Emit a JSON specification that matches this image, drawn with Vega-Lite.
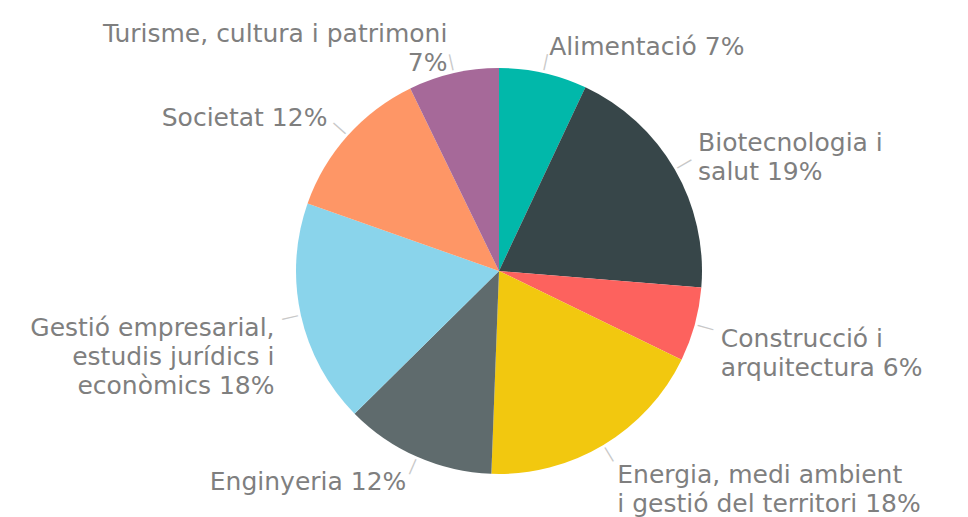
{
  "$schema": "https://vega.github.io/schema/vega-lite/v6.json",
  "width": 938,
  "height": 492,
  "autosize": "none",
  "padding": {"left": 30, "top": 25, "right": 0, "bottom": 0},
  "background": "white",
  "config": {"view": {"stroke": null}},
  "data": {
    "values": [
      {"category": "Alimentació", "value": 7.0, "label": "Alimentació 7%"},
      {"category": "Biotecnologia i salut", "value": 19.3, "label": "Biotecnologia i\nsalut 19%"},
      {"category": "Construcció i arquitectura", "value": 5.9, "label": "Construcció i\narquitectura 6%"},
      {"category": "Energia, medi ambient i gestió del territori", "value": 18.4, "label": "Energia, medi ambient\ni gestió del territori 18%"},
      {"category": "Enginyeria", "value": 12.0, "label": "Enginyeria 12%"},
      {"category": "Gestió empresarial, estudis jurídics i econòmics", "value": 17.8, "label": "Gestió empresarial,\nestudis jurídics i\neconòmics 18%"},
      {"category": "Societat", "value": 12.4, "label": "Societat 12%"},
      {"category": "Turisme, cultura i patrimoni", "value": 7.2, "label": "Turisme, cultura i patrimoni\n7%"}
    ]
  },
  "encoding": {
    "theta": {"field": "value", "type": "quantitative", "stack": true}
  },
  "layer": [
    {
      "mark": {"type": "arc", "outerRadius": 203},
      "encoding": {
        "color": {
          "field": "category",
          "type": "nominal",
          "scale": {
            "domain": ["Alimentació", "Biotecnologia i salut", "Construcció i arquitectura", "Energia, medi ambient i gestió del territori", "Enginyeria", "Gestió empresarial, estudis jurídics i econòmics", "Societat", "Turisme, cultura i patrimoni"],
            "range": ["#01B8AA", "#374649", "#FD625E", "#F2C80F", "#5F6B6D", "#8AD4EB", "#FE9666", "#A66999"]
          },
          "legend": null
        }
      }
    },
    {
      "mark": {
        "type": "text",
        "text": "—",
        "radius": 214,
        "font": "DejaVu Sans",
        "fontSize": 18,
        "color": "#c8c8c8",
        "align": "center",
        "baseline": "middle",
        "angle": {"expr": "(datum.value_start + datum.value_end) / 2 * 3.6 - 90"}
      },
      "encoding": {
        "detail": {"field": "category"}
      }
    },
    {
      "mark": {
        "type": "text",
        "radius": 230,
        "font": "DejaVu Sans",
        "fontSize": 25,
        "color": "#7f7f7f",
        "lineBreak": "\n",
        "lineHeight": 29,
        "align": {"expr": "(datum.value_start + datum.value_end) / 2 < 50 ? 'left' : 'right'"},
        "baseline": {"expr": "indexof(datum.label, '\\n') < 0 ? 'middle' : (((datum.value_start + datum.value_end) / 2 > 25 && (datum.value_start + datum.value_end) / 2 < 75) ? 'top' : 'bottom')"},
        "dy": {"expr": "(indexof(datum.label, '\\n') >= 0 && (datum.value_start + datum.value_end) / 2 > 25 && (datum.value_start + datum.value_end) / 2 < 75) ? -5 : 0"}
      },
      "encoding": {
        "text": {"field": "label"},
        "detail": {"field": "category"}
      }
    }
  ]
}
